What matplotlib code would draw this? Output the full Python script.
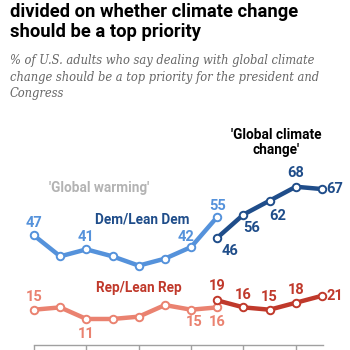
import matplotlib
matplotlib.use("Agg")
import matplotlib.pyplot as plt

# survey waves (index positions), 'global warming' wording then 'global climate change'
warming_x = [0, 1, 2, 3, 4, 5, 6, 7]
climate_x = [7, 8, 9, 10, 11]
dem_warming = [47, 38, 41, 38, 34, 37, 42, 55]
rep_warming = [15, 16, 11, 11, 12, 17, 15, 16]
dem_climate = [46, 56, 62, 68, 67]
rep_climate = [19, 16, 15, 18, 21]
tick_x = [0, 2, 4, 6, 8, 10]

LIGHT_BLUE = "#5592db"
DARK_BLUE = "#1f4d8a"
LIGHT_RED = "#ea8270"
DARK_RED = "#c0392b"

W = H = 350


def fy(y):
    return 1 - y / H


fig = plt.figure(figsize=(3.5, 3.5), dpi=100)
# x: index 0 at px 34, index 11 at px 322 ; y: 0 at px 344.5, 2.32 px per point
x0, dx = 34, 288 / 11
ytop = 80
ax = fig.add_axes([x0 / W, 5.5 / H, (323 - x0) / W, 2.32 * ytop / H])
ax.set_xlim(0, (323 - x0) / dx)
ax.set_ylim(0, ytop)
for s in ["top", "right", "left"]:
    ax.spines[s].set_visible(False)
ax.spines["bottom"].set_color("#a0a0a0")
ax.spines["bottom"].set_linewidth(1)
ax.set_yticks([])
ax.set_xticks(tick_x)
ax.set_xticklabels([])
ax.tick_params(axis="x", direction="out", length=8, color="#a0a0a0", width=1)

lw, ms, mew = 3.2, 5.4, 1.4
ax.plot(warming_x, dem_warming, color=LIGHT_BLUE, lw=lw, marker="o", ms=ms,
        mfc="white", mec=LIGHT_BLUE, mew=mew, clip_on=False, zorder=3)
ax.plot(climate_x, dem_climate, color=DARK_BLUE, lw=lw, marker="o", ms=ms,
        mfc="white", mec=DARK_BLUE, mew=mew, clip_on=False, zorder=4)
ax.plot(warming_x, rep_warming, color=LIGHT_RED, lw=lw, marker="o", ms=ms,
        mfc="white", mec=LIGHT_RED, mew=mew, clip_on=False, zorder=3)
ax.plot(climate_x, rep_climate, color=DARK_RED, lw=lw, marker="o", ms=ms,
        mfc="white", mec=DARK_RED, mew=mew, clip_on=False, zorder=4)

lab = dict(fontsize=10.5, fontweight="bold", family="Roboto", ha="center", va="center")
# value labels
ax.text(0, 52.5, "47", color=LIGHT_BLUE, **lab)
ax.text(2, 46.5, "41", color=LIGHT_BLUE, **lab)
ax.text(5.8, 46.5, "42", color=LIGHT_BLUE, **lab)
ax.text(7, 59.5, "55", color=LIGHT_BLUE, **lab)
ax.text(7.5, 40.5, "46", color=DARK_BLUE, **lab)
ax.text(8.3, 50, "56", color=DARK_BLUE, **lab)
ax.text(9.3, 55.5, "62", color=DARK_BLUE, **lab)
ax.text(10, 74, "68", color=DARK_BLUE, **lab)
ax.text(11.5, 67, "67", color=DARK_BLUE, **lab)

ax.text(0, 20.5, "15", color=LIGHT_RED, **lab)
ax.text(2, 4.5, "11", color=LIGHT_RED, **lab)
ax.text(6.1, 9.5, "15", color=LIGHT_RED, **lab)
ax.text(7, 9.5, "16", color=LIGHT_RED, **lab)
ax.text(7, 25, "19", color=DARK_RED, **lab)
ax.text(8, 21.5, "16", color=DARK_RED, **lab)
ax.text(9, 20.5, "15", color=DARK_RED, **lab)
ax.text(10, 23.5, "18", color=DARK_RED, **lab)
ax.text(11.5, 21, "21", color=DARK_RED, **lab)

# series / wording labels
series = dict(lab, fontsize=9.8)
ax.text(4.15, 53.7, "Dem/Lean Dem", color=DARK_BLUE, **series)
ax.text(4.0, 24.4, "Rep/Lean Rep", color=DARK_RED, **series)
ax.text(2.5, 67.5, "'Global warming'", color="#b3b3b3", **series)
ax.text(9.24, 87, "'Global climate\nchange'", color="black", linespacing=1.05,
        clip_on=False, **series)

# title and subtitle
title = dict(fontsize=13.2, fontweight="bold", family="Roboto", va="baseline", ha="left")
fig.text(10 / W, fy(17), "divided on whether climate change", **title)
fig.text(10 / W, fy(37), "should be a top priority", **title)
sub = dict(fontsize=8.3, style="italic", family="DejaVu Serif", color="#666666",
           va="baseline", ha="left")
fig.text(10 / W, fy(64), "% of U.S. adults who say dealing with global climate", **sub)
fig.text(10 / W, fy(81), "change should be a top priority for the president and", **sub)
fig.text(10 / W, fy(97), "Congress", **sub)

fig.savefig("out.png", dpi=100)
